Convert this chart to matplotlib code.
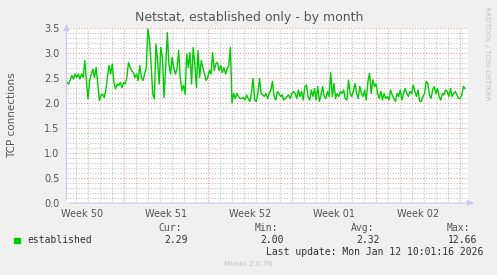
import matplotlib
matplotlib.use("Agg")
import matplotlib.pyplot as plt
import numpy as np

# ---------------- data ----------------
title = "Netstat, established only - by month"
ylabel = "TCP connections"
series_name = "established"
week_labels = ["Week 50", "Week 51", "Week 52", "Week 01", "Week 02"]
week_centers = [-31.5, -24.5, -17.5, -10.5, -3.5]   # days relative to Mon Jan 12 00:00
week_starts = [-28, -21, -14, -7, 0]
x_start, x_end = -32.79, 0.667      # visible time window (days)
data_start, data_end = -32.75, 0.417

seg_a = [2.41, 2.38, 2.46, 2.55, 2.48, 2.58, 2.51, 2.58, 2.48, 2.58, 2.51, 2.85,
         2.45, 2.08, 2.45, 2.58, 2.68, 2.51, 2.71, 2.41, 2.05, 2.15, 2.18, 2.11,
         2.25, 2.51, 2.75, 2.58, 2.78, 2.41, 2.28, 2.38, 2.35, 2.41, 2.31, 2.41,
         2.38, 2.51, 2.81, 2.71, 2.65, 2.61, 2.51, 2.58, 2.45, 2.75, 2.51, 2.45,
         2.58, 2.71, 3.48]
seg_b = [3.25, 2.78, 2.18, 2.08, 3.18, 2.85, 2.38, 3.11, 2.91, 2.11, 2.71, 3.41,
         2.78, 2.58, 2.91, 2.71, 2.58, 2.68, 3.05, 2.51, 2.25, 2.35, 2.18, 2.98,
         2.71, 3.01, 2.38, 3.11, 2.78, 2.31, 3.05, 2.51, 2.85, 2.71, 2.58, 2.45,
         2.51, 2.65, 2.58, 3.01, 2.65, 2.78, 2.81, 2.65, 2.75, 2.61, 2.71, 2.58,
         2.68, 2.75, 3.11]
seg_c = [2.00, 2.19, 2.09, 2.19, 2.13, 2.09, 2.09, 2.11, 2.06, 2.16, 2.09, 2.03,
         2.19, 2.49, 2.06, 2.03, 2.19, 2.49, 2.19, 2.16, 2.13, 2.19, 2.09, 2.19,
         2.26, 2.43, 2.13, 2.06, 2.23, 2.19, 2.13, 2.16, 2.06, 2.09, 2.13, 2.16,
         2.09, 2.19, 2.23, 2.19, 2.09, 2.26, 2.13, 2.23, 2.06, 2.33, 2.36, 2.13,
         2.06, 2.26, 2.13, 2.29, 2.06, 2.33, 2.03, 2.16, 2.33, 2.13, 2.09, 2.23,
         2.13, 2.61, 2.13, 2.39, 2.09, 2.19, 2.13, 2.23, 2.19, 2.26]
seg_d = [2.09, 2.06, 2.46, 2.19, 2.13, 2.23, 2.39, 2.19, 2.09, 2.33, 2.19, 2.13,
         2.26, 2.06, 2.43, 2.59, 2.19, 2.46, 2.33, 2.39, 2.19, 2.09, 2.23, 2.06,
         2.19, 2.09, 2.13, 2.06, 2.26, 2.16, 2.09, 2.03, 2.19, 2.13, 2.26, 2.06,
         2.19, 2.29, 2.19, 2.13, 2.23, 2.19, 2.36, 2.23, 2.13, 2.26, 2.03, 2.03,
         2.13, 2.19, 2.43, 2.39, 2.16, 2.09, 2.26, 2.33, 2.19, 2.29, 2.13, 2.06,
         2.19, 2.16, 2.26, 2.23, 2.13, 2.29, 2.13, 2.19, 2.23, 2.16, 2.09, 2.09,
         2.16, 2.33, 2.29]
values = seg_a + seg_b + seg_c + seg_d

stat_names = ["Cur:", "Min:", "Avg:", "Max:"]
stat_values = ["2.29", "2.00", "2.32", "12.66"]
last_update = "Last update: Mon Jan 12 10:01:16 2026"
footer = "Munin 2.0.76"
side_text = "RRDTOOL / TOBI OETIKER"

# ---------------- figure ----------------
W, H = 497, 275
fig = plt.figure(figsize=(W / 100, H / 100), dpi=100, facecolor="#F0F0F0")
L, R, T, B = 66.5, 468, 28, 203
ax = fig.add_axes([L / W, 1 - B / H, (R - L) / W, (B - T) / H])
ax.set_facecolor("white")

t = np.linspace(data_start, data_end, len(values))
ax.plot(t, values, color="#00CC00", lw=1.0, zorder=5)

ax.set_xlim(x_start, x_end)
ax.set_ylim(0, 3.5)

# grids
minor_col = "#C4C4C4"
major_col = "#EE9A9A"
day_lines = np.arange(-32, 1, 1)
for d in day_lines:
    if d in week_starts:
        ax.axvline(d, color=major_col, lw=0.8, ls=(0, (1, 1.5)), zorder=2)
    else:
        ax.axvline(d, color=minor_col, lw=0.8, ls=(0, (1, 1.5)), zorder=1)
for v in np.arange(0.1, 3.51, 0.1):
    if abs(v * 2 - round(v * 2)) < 1e-6:
        ax.axhline(v, color=major_col, lw=0.8, ls=(0, (1, 1.5)), zorder=2)
    else:
        ax.axhline(v, color=minor_col, lw=0.8, ls=(0, (1, 1.5)), zorder=1)

for s in ax.spines.values():
    s.set_visible(False)

ax.set_yticks(np.arange(0, 3.51, 0.5))
ax.set_yticklabels([f"{v:.1f}" for v in np.arange(0, 3.51, 0.5)])
ax.set_xticks(week_centers)
ax.set_xticklabels(week_labels)
ax.tick_params(axis="both", length=0, labelsize=7, colors="#555555", pad=4)
ax.tick_params(axis="y", pad=5)

# axis lines with arrows
axis_col = "#C8C8F0"
ax.annotate("", xy=(0, 1.04), xytext=(0, 0), xycoords="axes fraction",
            arrowprops=dict(arrowstyle="-|>,head_width=0.18,head_length=0.4",
                            color=axis_col, lw=0.8), annotation_clip=False)
ax.annotate("", xy=(1.022, 0), xytext=(0, 0), xycoords="axes fraction",
            arrowprops=dict(arrowstyle="-|>,head_width=0.18,head_length=0.4",
                            color=axis_col, lw=0.8), annotation_clip=False)

# titles
fig.text(249 / W, 1 - 18 / H, title, ha="center", va="center",
         fontsize=9, color="#555555")
fig.text(12 / W, 1 - 115 / H, ylabel, ha="center", va="center",
         rotation=90, fontsize=7.5, color="#555555")
fig.text(487 / W, 1 - 53 / H, side_text, ha="center", va="center",
         rotation=270, fontsize=5.3, color="#C4C4C4")

# legend block
mono = "DejaVu Sans Mono"
fig.patches.append(plt.Rectangle((14 / W, 1 - 243 / H), 5.5 / W, 5.5 / H,
                                 transform=fig.transFigure, color="#00CC00"))
fig.text(27 / W, 1 - 240 / H, series_name, ha="left", va="center",
         family=mono, fontsize=7, color="#333333")
stat_right = [182, 278, 374, 470]
val_right = [188, 284, 380, 477]
for name, xr in zip(stat_names, stat_right):
    fig.text(xr / W, 1 - 228 / H, name, ha="right", va="center",
             family=mono, fontsize=7, color="#555555")
for val, xr in zip(stat_values, val_right):
    fig.text(xr / W, 1 - 240 / H, val, ha="right", va="center",
             family=mono, fontsize=7, color="#333333")
fig.text(483 / W, 1 - 252 / H, last_update, ha="right", va="center",
         family=mono, fontsize=7, color="#333333")
fig.text(248 / W, 1 - 264 / H, footer, ha="center", va="center",
         fontsize=5.3, color="#C4C4C4")

fig.savefig("out.png", dpi=100, facecolor=fig.get_facecolor())
